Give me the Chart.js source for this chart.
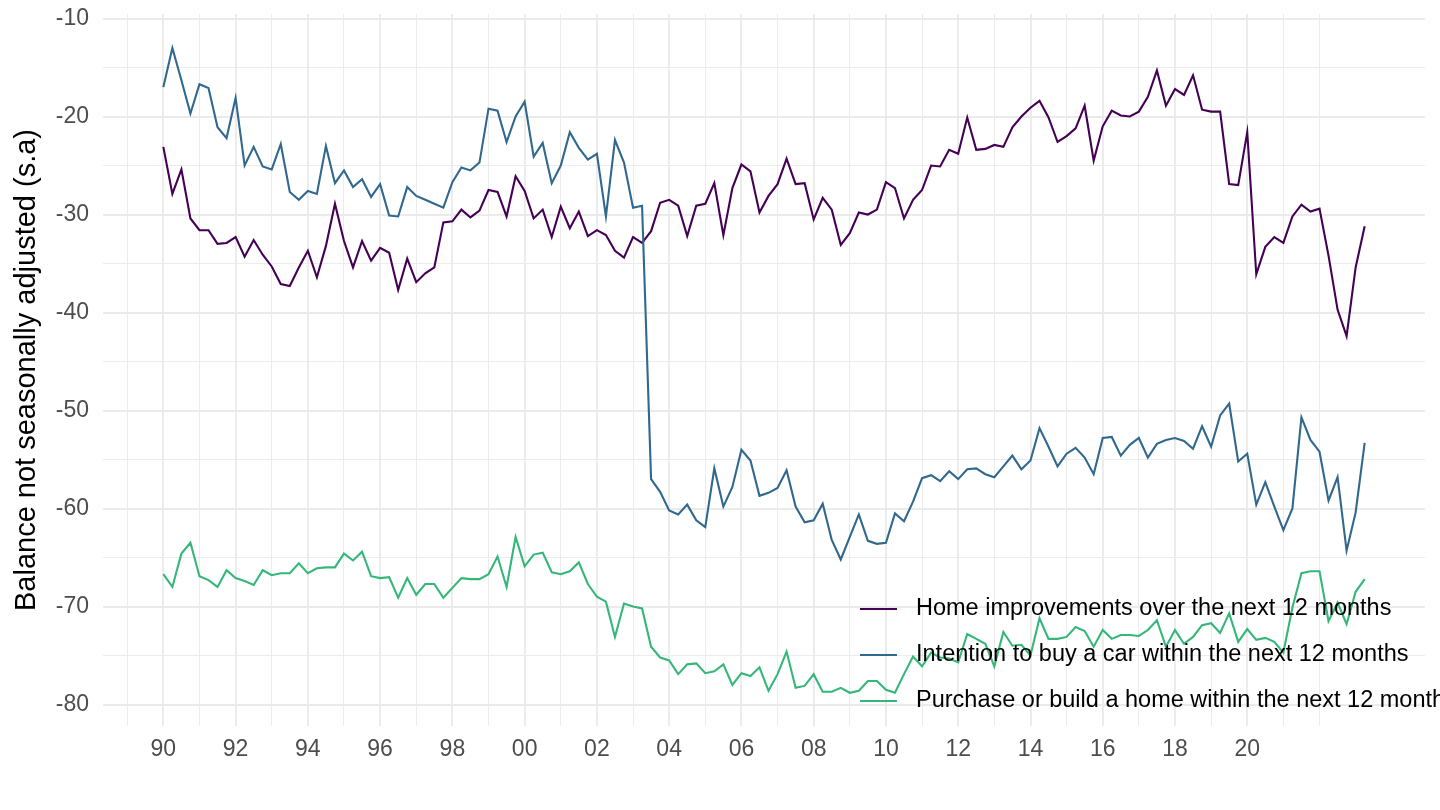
<!DOCTYPE html>
<html lang="en">
<head>
<meta charset="UTF-8">
<title>Household intentions balance</title>
<script src="https://cdn.jsdelivr.net/npm/chart.js@4.4.1/dist/chart.umd.min.js"></script>
<style>
  html, body { margin: 0; padding: 0; background: #ffffff; }
  #wrap { width: 1440px; height: 810px; }
</style>
</head>
<body>
<div id="wrap"><canvas id="grafico" width="1440" height="810"></canvas></div>
<script>
// quarterly observations, first quarter of 1990 onwards
const startYear = 1990;
const nQuarters = 134;

const seriesNames = [
  'Home improvements over the next 12 months',
  'Intention to buy a car within the next 12 months',
  'Purchase or build a home within the next 12 months'
];
const seriesColors = ['#440154', '#31688E', '#35B779'];

const homeImprovements = [
  -23.1, -27.9, -25.4, -30.4, -31.6, -31.6, -33.0, -32.9, -32.3, -34.3,
  -32.6, -34.1, -35.3, -37.1, -37.3, -35.4, -33.7, -36.4, -33.2, -28.9,
  -32.7, -35.4, -32.7, -34.7, -33.4, -33.9, -37.7, -34.5, -36.9, -36.0,
  -35.4, -30.8, -30.7, -29.5, -30.3, -29.6, -27.5, -27.7, -30.2, -26.1,
  -27.6, -30.4, -29.5, -32.3, -29.2, -31.4, -29.7, -32.2, -31.6, -32.1,
  -33.7, -34.4, -32.3, -32.9, -31.7, -28.8, -28.5, -29.1, -32.2, -29.1,
  -28.9, -26.8, -32.1, -27.3, -24.9, -25.6, -29.8, -28.1, -26.9, -24.3,
  -26.9, -26.8, -30.5, -28.3, -29.5, -33.1, -31.9, -29.8, -30.0, -29.5,
  -26.7, -27.3, -30.4, -28.5, -27.5, -25.0, -25.1, -23.4, -23.8, -20.1,
  -23.4, -23.3, -22.9, -23.1, -21.1, -20.0, -19.1, -18.4, -20.1, -22.6,
  -22.0, -21.2, -18.9, -24.5, -21.0, -19.4, -19.9, -20.0, -19.5, -18.0,
  -15.3, -18.9, -17.2, -17.8, -15.8, -19.3, -19.5, -19.5, -26.9, -27.0,
  -21.6, -36.1, -33.3, -32.3, -32.9, -30.2, -29.0, -29.7, -29.4, -34.2,
  -39.7, -42.4, -35.4, -31.2
];

const buyCar = [
  -17.0, -13.0, -16.3, -19.7, -16.7, -17.1, -21.1, -22.2, -18.1, -25.0,
  -23.1, -25.1, -25.4, -22.8, -27.7, -28.5, -27.6, -27.9, -23.0, -26.8,
  -25.5, -27.2, -26.4, -28.2, -26.9, -30.1, -30.2, -27.2, -28.1, -28.5,
  -28.9, -29.3, -26.7, -25.2, -25.5, -24.7, -19.2, -19.4, -22.6, -20.0,
  -18.5, -24.1, -22.7, -26.8, -25.0, -21.6, -23.2, -24.4, -23.8, -30.2,
  -22.4, -24.7, -29.3, -29.1, -57.0, -58.3, -60.2, -60.6, -59.6, -61.2,
  -61.9, -55.9, -59.8, -57.8, -54.0, -55.1, -58.7, -58.4, -57.9, -56.1,
  -59.8, -61.4, -61.2, -59.5, -63.2, -65.2, -62.9, -60.6, -63.3, -63.6,
  -63.5, -60.5, -61.3, -59.3, -56.9, -56.6, -57.2, -56.2, -57.0, -56.0,
  -55.9, -56.5, -56.8, -55.7, -54.6, -56.0, -55.1, -51.8, -53.7, -55.7,
  -54.4, -53.8, -54.8, -56.5, -52.8, -52.7, -54.6, -53.5, -52.8, -54.8,
  -53.4, -53.0, -52.8, -53.1, -53.9, -51.6, -53.7, -50.5, -49.3, -55.2,
  -54.4, -59.6, -57.3, -59.8, -62.2, -60.0, -50.7, -53.0, -54.2, -59.2,
  -56.8, -64.3, -60.4, -53.3
];

const buildHome = [
  -66.7, -68.0, -64.6, -63.5, -66.9, -67.3, -68.0, -66.3, -67.1, -67.4,
  -67.8, -66.3, -66.8, -66.6, -66.6, -65.6, -66.6, -66.1, -66.0, -66.0,
  -64.6, -65.3, -64.4, -66.9, -67.1, -67.0, -69.1, -67.1, -68.8, -67.7,
  -67.7, -69.1, -68.1, -67.1, -67.2, -67.2, -66.7, -64.9, -68.0, -62.9,
  -65.9, -64.7, -64.5, -66.5, -66.7, -66.4, -65.5, -67.7, -69.0, -69.5,
  -73.1, -69.7, -70.0, -70.2, -74.1, -75.2, -75.5, -76.9, -75.9, -75.8,
  -76.8, -76.6, -75.9, -78.0, -76.8, -77.1, -76.2, -78.6, -76.9, -74.6,
  -78.3, -78.1, -76.9, -78.7, -78.7, -78.3, -78.8, -78.6, -77.6, -77.6,
  -78.5, -78.8, -76.9, -75.1, -76.1, -74.7, -75.2, -75.3, -75.7, -72.8,
  -73.3, -73.8, -76.1, -72.6, -74.0, -73.9, -75.0, -71.2, -73.3, -73.3,
  -73.1, -72.1, -72.5, -74.1, -72.4, -73.3, -72.9, -72.9, -73.0, -72.4,
  -71.4, -74.1, -72.4, -73.8, -73.1, -71.9, -71.7, -72.7, -70.7, -73.6,
  -72.3, -73.4, -73.2, -73.6, -74.7, -70.1, -66.6, -66.4, -66.4, -71.5,
  -69.6, -71.8, -68.5, -67.2
];

// axis ticks
const labelYears = [1990, 1992, 1994, 1996, 1998, 2000, 2002, 2004, 2006, 2008, 2010, 2012, 2014, 2016, 2018, 2020];
const gridYears = [1989, 1990, 1991, 1992, 1993, 1994, 1995, 1996, 1997, 1998, 1999, 2000, 2001, 2002, 2003, 2004, 2005,
  2006, 2007, 2008, 2009, 2010, 2011, 2012, 2013, 2014, 2015, 2016, 2017, 2018, 2019, 2020, 2021, 2022];
const yLabelValues = [-10, -20, -30, -40, -50, -60, -70, -80];
const yGridValues = [-10, -15, -20, -25, -30, -35, -40, -45, -50, -55, -60, -65, -70, -75, -80];
const yTitle = 'Balance not seasonally adjusted (s.a)';

const dates = [];
for (let i = 0; i < nQuarters; i++) dates.push(startYear + i / 4);

const FONT = '"Liberation Sans", Arial, Helvetica, sans-serif';
const MAJOR = '#EBEBEB';

const allSeries = [homeImprovements, buyCar, buildHome];
const datasets = allSeries.map((vals, k) => ({
  label: seriesNames[k],
  data: vals.map((v, i) => ({ x: dates[i], y: v })),
  borderColor: seriesColors[k],
  backgroundColor: seriesColors[k],
  borderWidth: 2.1,
  pointRadius: 0,
  tension: 0,
  fill: false,
  order: 3 - k
}));

// axis title and legend drawn by hand (ggplot style, legend inside the panel)
const extras = {
  id: 'extras',
  afterDraw(chart) {
    const ctx = chart.ctx;
    const area = chart.chartArea;
    ctx.save();
    ctx.fillStyle = '#000000';
    ctx.font = '29px ' + FONT;
    ctx.textAlign = 'center';
    ctx.textBaseline = 'middle';
    ctx.translate(27, (area.top + area.bottom) / 2);
    ctx.rotate(-Math.PI / 2);
    ctx.fillText(yTitle, 0, 0);
    ctx.restore();

    ctx.save();
    ctx.font = '23.5px ' + FONT;
    ctx.textAlign = 'left';
    ctx.textBaseline = 'middle';
    const rows = [609, 655, 701];
    seriesNames.forEach((name, k) => {
      ctx.strokeStyle = seriesColors[k];
      ctx.lineWidth = 2.1;
      ctx.beginPath();
      ctx.moveTo(860, rows[k]);
      ctx.lineTo(897, rows[k]);
      ctx.stroke();
      ctx.fillStyle = '#000000';
      ctx.fillText(name, 916, rows[k]);
    });
    ctx.restore();
  }
};

const ctx = document.getElementById('grafico').getContext('2d');
new Chart(ctx, {
  type: 'line',
  data: { datasets: datasets },
  plugins: [extras],
  options: {
    responsive: false,
    animation: false,
    devicePixelRatio: 1,
    layout: { padding: { top: 14, right: 15, left: 0, bottom: 0 } },
    plugins: { legend: { display: false }, tooltip: { enabled: false } },
    scales: {
      x: {
        type: 'linear',
        min: 1988.33,
        max: 2024.92,
        afterBuildTicks(scale) { scale.ticks = gridYears.map(v => ({ value: v })); },
        afterFit(scale) { scale.height = 84; scale.paddingLeft = 0; scale.paddingRight = 0; },
        border: { display: false },
        grid: {
          color: MAJOR,
          drawTicks: false,
          lineWidth: c => labelYears.includes(c.tick.value) ? 1.9 : 0.95
        },
        ticks: {
          autoSkip: false,
          maxRotation: 0,
          padding: 10,
          color: '#4D4D4D',
          font: { family: FONT, size: 23 },
          callback: v => labelYears.includes(v) ? String(v).slice(2) : ''
        }
      },
      y: {
        min: -82.19,
        max: -9.54,
        afterBuildTicks(scale) { scale.ticks = yGridValues.map(v => ({ value: v })); },
        afterFit(scale) { scale.width = 103; scale.paddingTop = 0; scale.paddingBottom = 0; },
        border: { display: false },
        grid: {
          color: MAJOR,
          drawTicks: false,
          lineWidth: c => yLabelValues.includes(c.tick.value) ? 1.9 : 0.95
        },
        ticks: {
          autoSkip: false,
          padding: 14,
          color: '#4D4D4D',
          font: { family: FONT, size: 23 },
          callback: v => yLabelValues.includes(v) ? String(v) : ''
        }
      }
    }
  }
});
</script>
</body>
</html>
